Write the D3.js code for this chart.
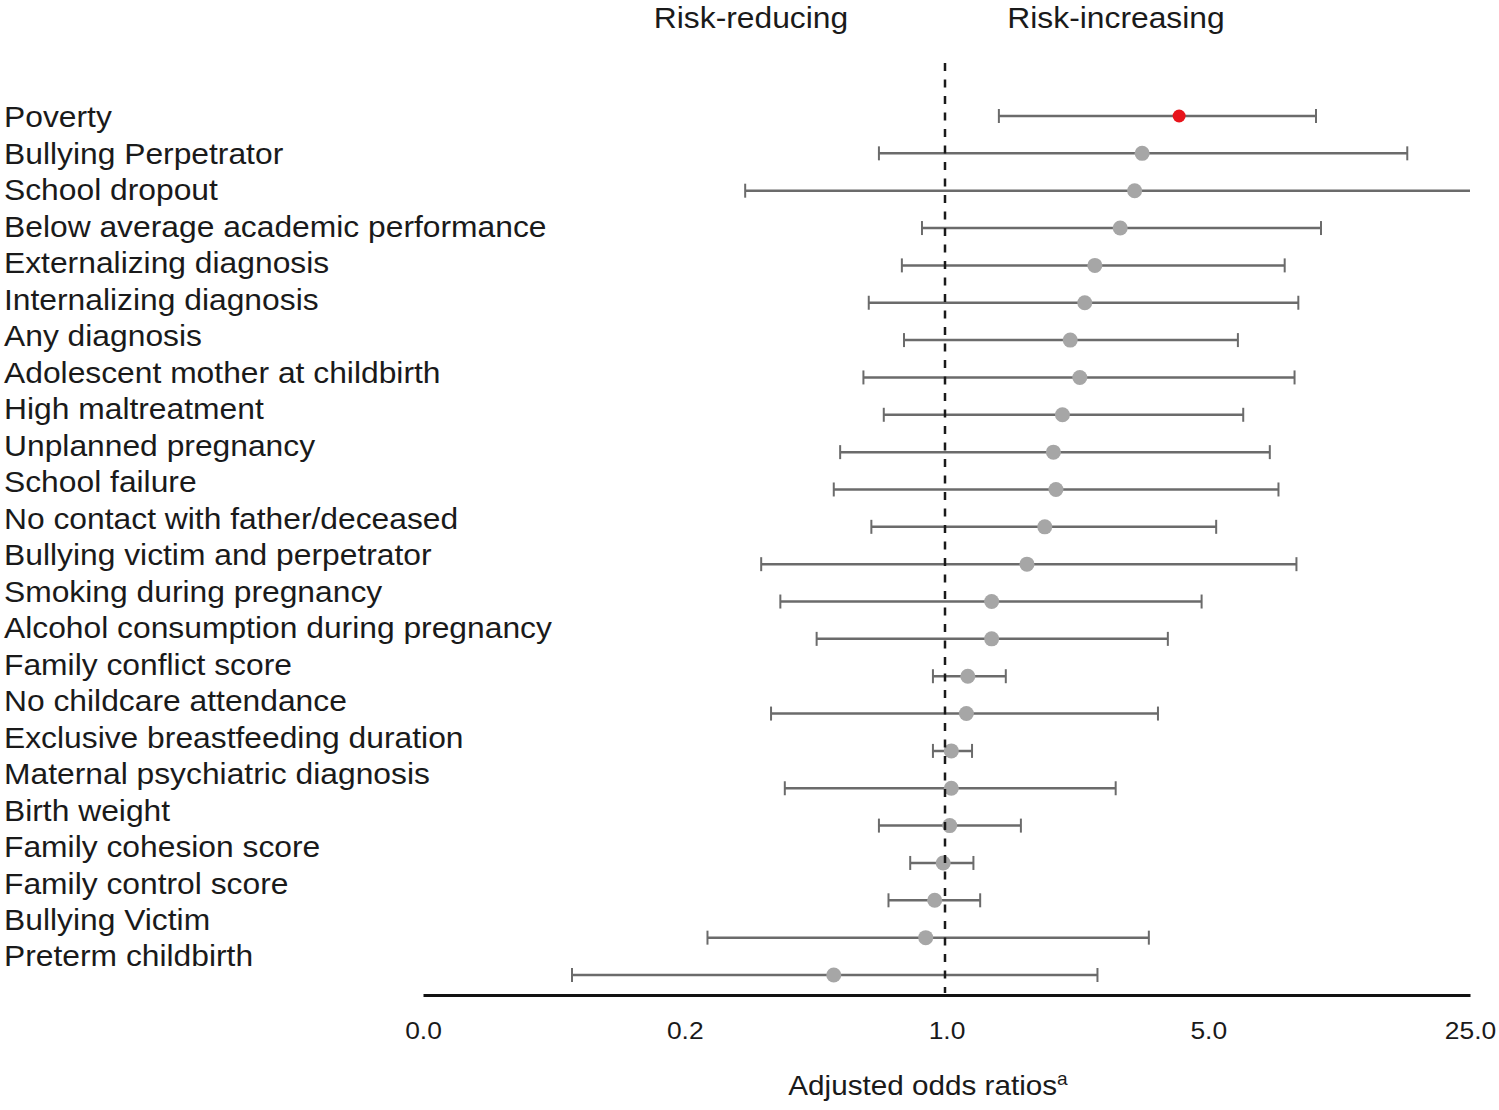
<!DOCTYPE html>
<html>
<head>
<meta charset="UTF-8">
<script src="https://d3js.org/d3.v7.min.js"></script>
<style>
  body { margin: 0; background: #fff; }
  text { font-family: "Liberation Sans", Arial, sans-serif; fill: #1a1a1a; }
</style>
</head>
<body>
<svg width="1499" height="1110"></svg>

<script>

// risk factors, top to bottom
var factors = [
  "Poverty", "Bullying Perpetrator", "School dropout", "Below average academic performance",
  "Externalizing diagnosis", "Internalizing diagnosis", "Any diagnosis",
  "Adolescent mother at childbirth", "High maltreatment", "Unplanned pregnancy",
  "School failure", "No contact with father/deceased", "Bullying victim and perpetrator",
  "Smoking during pregnancy", "Alcohol consumption during pregnancy", "Family conflict score",
  "No childcare attendance", "Exclusive breastfeeding duration", "Maternal psychiatric diagnosis",
  "Birth weight", "Family cohesion score", "Family control score", "Bullying Victim",
  "Preterm childbirth"
];

// adjusted odds ratios and 95% CI
var oddsRatio = [4.18, 3.33, 3.18, 2.91, 2.49, 2.34, 2.14, 2.27, 2.04, 1.93, 1.96, 1.83,
                 1.64, 1.32, 1.32, 1.14, 1.13, 1.03, 1.03, 1.02, 0.98, 0.93, 0.88, 0.50];
var lowerCI   = [1.38, 0.66, 0.29, 0.86, 0.76, 0.62, 0.77, 0.60, 0.68, 0.52, 0.50, 0.63,
                 0.32, 0.36, 0.45, 0.92, 0.34, 0.92, 0.37, 0.66, 0.80, 0.70, 0.23, 0.10];
var upperCI   = [9.7, 17.0, 30.0, 10.0, 8.0, 8.7, 6.0, 8.5, 6.2, 7.3, 7.7, 5.25,
                 8.6, 4.8, 3.9, 1.44, 3.67, 1.17, 2.83, 1.58, 1.18, 1.23, 3.47, 2.53];

var highlighted = ["Poverty"];
var tickValues = [0.04, 0.2, 1, 5, 25];

var svg = d3.select("svg");
var stretch = 1.06; // source text is a little wide

var rows = factors.map(function(f, i) {
  return {name: f, or: oddsRatio[i], lo: lowerCI[i], hi: upperCI[i]};
});

var x = d3.scaleLog()
    .domain([0.04, 25])
    .range([423, 1470])
    .clamp(true);

var y = d3.scalePoint().domain(factors).range([116, 975]);
var yLabel = d3.scalePoint().domain(factors).range([117, 956]);

// labels
var labels = svg.append("g")
    .attr("transform", "translate(4,0) scale(" + stretch + ",1)");

labels.selectAll("text")
  .data(factors)
  .enter().append("text")
    .attr("x", 0)
    .attr("y", function(d) { return yLabel(d); })
    .attr("dy", "0.35em")
    .attr("font-size", 30)
    .text(function(d) { return d; });

// error bars
var bars = svg.append("g")
    .attr("stroke", "#6b6b6b")
    .attr("stroke-width", 2.5);

bars.selectAll("line.ci")
  .data(rows)
  .enter().append("line")
    .attr("class", "ci")
    .attr("x1", function(d) { return x(d.lo); })
    .attr("x2", function(d) { return x(d.hi); })
    .attr("y1", function(d) { return y(d.name); })
    .attr("y2", function(d) { return y(d.name); });

var caps = [];
rows.forEach(function(d) {
  if (d.lo >= x.domain()[0]) caps.push({name: d.name, v: d.lo});
  if (d.hi <= x.domain()[1]) caps.push({name: d.name, v: d.hi});
});

bars.selectAll("line.cap")
  .data(caps)
  .enter().append("line")
    .attr("class", "cap")
    .attr("stroke-width", 2)
    .attr("x1", function(d) { return x(d.v); })
    .attr("x2", function(d) { return x(d.v); })
    .attr("y1", function(d) { return y(d.name) - 7; })
    .attr("y2", function(d) { return y(d.name) + 7; });

// points
svg.append("g")
  .selectAll("circle")
  .data(rows)
  .enter().append("circle")
    .attr("cx", function(d) { return x(d.or); })
    .attr("cy", function(d) { return y(d.name); })
    .attr("r", function(d) { return highlighted.indexOf(d.name) >= 0 ? 6.5 : 7.5; })
    .attr("fill", function(d) { return highlighted.indexOf(d.name) >= 0 ? "#e8141b" : "#a6a6a6"; });

// reference line at OR = 1
svg.append("line")
    .attr("x1", x(1) - 1.5)
    .attr("x2", x(1) - 1.5)
    .attr("y1", 63)
    .attr("y2", 993)
    .attr("stroke", "#1a1a1a")
    .attr("stroke-width", 2.5)
    .attr("stroke-dasharray", "8,8.5");

// x axis
var axis = svg.append("g")
    .attr("transform", "translate(0,995)")
    .call(d3.axisBottom(x)
      .tickValues(tickValues)
      .tickFormat(d3.format(".1f"))
      .tickSize(0)
      .tickSizeOuter(0)
      .tickPadding(27));

axis.select(".domain")
    .attr("stroke", "#111")
    .attr("stroke-width", 3);

axis.selectAll(".tick text")
    .attr("font-size", 24)
    .attr("font-family", "Liberation Sans, Arial, sans-serif")
    .attr("fill", "#222")
    .attr("transform", "scale(1.1,1)");

// axis title
var title = svg.append("g")
    .attr("transform", "translate(928,1095) scale(" + stretch + ",1)")
  .append("text")
    .attr("text-anchor", "middle")
    .attr("font-size", 28);
title.append("tspan").text("Adjusted odds ratios");
title.append("tspan")
    .attr("font-size", 18)
    .attr("dy", -10)
    .text("a");

// direction headings
[["Risk-reducing", 751], ["Risk-increasing", 1116]].forEach(function(h) {
  svg.append("g")
      .attr("transform", "translate(" + h[1] + ",28) scale(" + stretch + ",1)")
    .append("text")
      .attr("text-anchor", "middle")
      .attr("font-size", 30)
      .text(h[0]);
});

</script>
</body>
</html>
